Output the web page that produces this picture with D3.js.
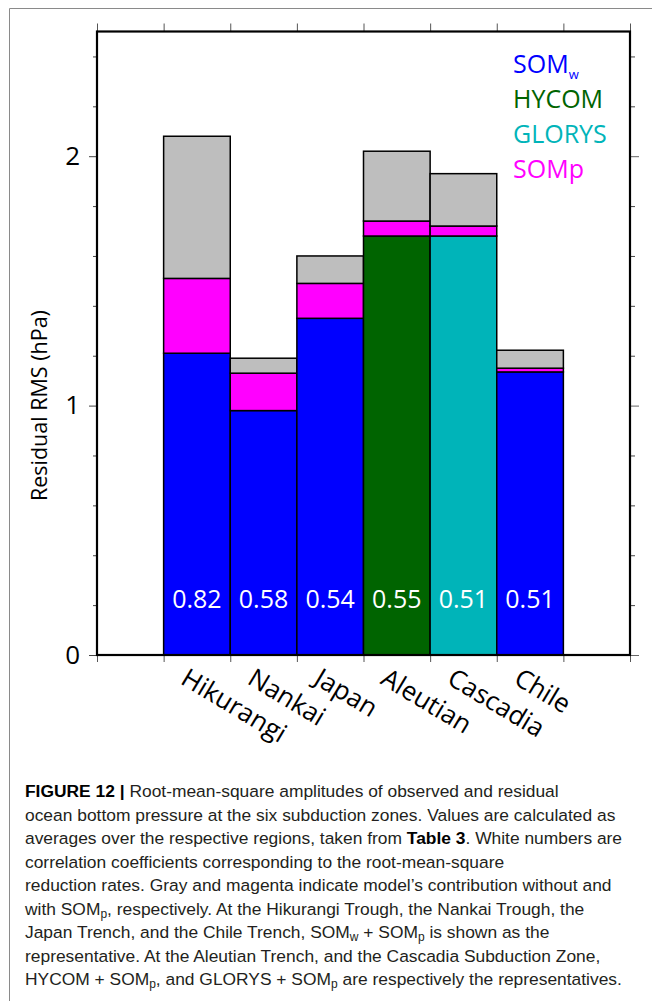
<!DOCTYPE html>
<html>
<head>
<meta charset="utf-8">
<script src="https://cdn.jsdelivr.net/npm/d3@7"></script>
<style>
  body { margin: 0; background: #fff; }
  svg { display: block; }
</style>
</head>
<body>
<script>
// data
var regions = ["Hikurangi", "Nankai", "Japan", "Aleutian", "Cascadia", "Chile"];
var baseModel = ["SOMw", "SOMw", "SOMw", "HYCOM", "GLORYS", "SOMw"];
var baseRms = [1.21, 0.98, 1.35, 1.68, 1.68, 1.135];   // residual with model alone
var sompRms = [1.51, 1.13, 1.49, 1.74, 1.72, 1.15];    // model + SOMp
var obsRms = [2.08, 1.19, 1.60, 2.02, 1.93, 1.222];    // observed
var corrLabels = ["0.82", "0.58", "0.54", "0.55", "0.51", "0.51"];
var legendNames = ["SOMw", "HYCOM", "GLORYS", "SOMp"];
var yTicksMajor = [0, 1, 2];

var colors = {SOMw: "#0000ff", HYCOM: "#006400", GLORYS: "#00b4b9", SOMp: "#ff00ff", obs: "#bebebe"};

var W = 652, H = 1001;
var margin = {top: 31.5, right: 22, bottom: 346, left: 97};
var width = W - margin.left - margin.right,
    height = H - margin.top - margin.bottom;

var svg = d3.select("body").append("svg")
  .attr("width", W)
  .attr("height", H);

// outer frame lines of the figure panel
svg.append("line").attr("x1", 9.5).attr("x2", 9.5).attr("y1", 8.5).attr("y2", H)
  .attr("stroke", "#8a8a8a").attr("stroke-width", 1);
svg.append("line").attr("x1", 9.5).attr("x2", W).attr("y1", 8.5).attr("y2", 8.5)
  .attr("stroke", "#8a8a8a").attr("stroke-width", 1);

var plot = svg.append("g")
  .attr("transform", "translate(" + margin.left + "," + margin.top + ")");

var xScale = d3.scaleLinear().domain([0, 8]).range([0, width]);
var yScale = d3.scaleLinear().domain([0, 2.5]).range([height, 0]);

// build stacked segments
var segs = [];
regions.forEach(function (r, i) {
  segs.push({i: i, y0: 0, y1: baseRms[i], c: colors[baseModel[i]]});
  segs.push({i: i, y0: baseRms[i], y1: sompRms[i], c: colors.SOMp});
  segs.push({i: i, y0: sompRms[i], y1: obsRms[i], c: colors.obs});
});

plot.append("g").selectAll("rect")
  .data(segs)
  .join("rect")
  .attr("x", function (d) { return xScale(d.i + 1); })
  .attr("width", function (d) { return xScale(d.i + 2) - xScale(d.i + 1); })
  .attr("y", function (d) { return yScale(d.y1); })
  .attr("height", function (d) { return yScale(d.y0) - yScale(d.y1); })
  .attr("fill", function (d) { return d.c; })
  .attr("stroke", "#000")
  .attr("stroke-width", 1.5);

// correlation numbers
plot.append("g").selectAll("text")
  .data(corrLabels)
  .join("text")
  .attr("x", function (d, i) { return xScale(i + 1.5); })
  .attr("y", yScale(0.19))
  .attr("text-anchor", "middle")
  .attr("fill", "#fff")
  .style("font-family", "Open Sans")
  .style("font-size", "25px")
  .text(function (d) { return d; });

// axes: ticks on all four sides, pointing out
var yMinor = d3.range(0, 2.51, 0.2).filter(function (v) { return Math.abs(v - Math.round(v)) > 0.01; });
var xTickVals = d3.range(0, 9);

plot.append("g")
  .call(d3.axisLeft(yScale).tickValues(yTicksMajor).tickSize(8).tickPadding(9).tickFormat(d3.format("d")))
  .call(function (g) { g.select(".domain").remove(); })
  .call(function (g) {
    g.selectAll("line").attr("stroke", "#444");
    g.selectAll("text").style("font-family", "Open Sans").style("font-size", "26px").attr("fill", "#000");
  });
plot.append("g")
  .call(d3.axisLeft(yScale).tickValues(yMinor).tickSize(4).tickFormat(""))
  .call(function (g) { g.select(".domain").remove(); g.selectAll("line").attr("stroke", "#444"); });

plot.append("g")
  .attr("transform", "translate(" + width + ",0)")
  .call(d3.axisRight(yScale).tickValues(yTicksMajor).tickSize(9).tickFormat(""))
  .call(function (g) { g.select(".domain").remove(); g.selectAll("line").attr("stroke", "#666"); });
plot.append("g")
  .attr("transform", "translate(" + width + ",0)")
  .call(d3.axisRight(yScale).tickValues(yMinor).tickSize(5).tickFormat(""))
  .call(function (g) { g.select(".domain").remove(); g.selectAll("line").attr("stroke", "#444"); });

plot.append("g")
  .call(d3.axisTop(xScale).tickValues(xTickVals).tickSize(8).tickFormat(""))
  .call(function (g) { g.select(".domain").remove(); g.selectAll("line").attr("stroke", "#555"); });
plot.append("g")
  .attr("transform", "translate(0," + height + ")")
  .call(d3.axisBottom(xScale).tickValues(xTickVals).tickSize(7).tickFormat(""))
  .call(function (g) { g.select(".domain").remove(); g.selectAll("line").attr("stroke", "#555"); });

// frame
plot.append("rect")
  .attr("width", width).attr("height", height)
  .attr("fill", "none").attr("stroke", "#000").attr("stroke-width", 2.2);

// region names, rotated
plot.append("g").selectAll("text")
  .data(regions)
  .join("text")
  .attr("transform", function (d, i) {
    return "translate(" + (xScale(i + 1.5) - 8) + "," + (height + 12) + ") rotate(31)";
  })
  .attr("dy", "0.72em")
  .style("font-family", "Open Sans")
  .style("font-size", "26px")
  .attr("fill", "#000")
  .text(function (d) { return d; });

// y axis title
svg.append("text")
  .attr("transform", "translate(47," + (margin.top + yScale(1)) + ") rotate(-90)")
  .attr("text-anchor", "middle")
  .style("font-family", "Open Sans")
  .style("font-size", "21.5px")
  .attr("fill", "#000")
  .text("Residual RMS (hPa)");

// legend
var leg = plot.append("g").attr("transform", "translate(416,0)");
legendNames.forEach(function (name, i) {
  var t = leg.append("text")
    .attr("x", 0)
    .attr("y", 41.5 + i * 35)
    .style("font-family", "Open Sans")
    .style("font-size", "25px")
    .attr("fill", colors[name]);
  if (name === "SOMw") {
    t.append("tspan").text("SOM");
    t.append("tspan").attr("dy", 6).style("font-size", "13px").text("w");
  } else {
    t.text(name);
  }
});

// caption
var capLines = [
  [["b", "FIGURE 12 | "], ["", "Root-mean-square amplitudes of observed and residual"]],
  [["", "ocean bottom pressure at the six subduction zones. Values are calculated as"]],
  [["", "averages over the respective regions, taken from "], ["b", "Table 3"], ["", ". White numbers are"]],
  [["", "correlation coefficients corresponding to the root-mean-square"]],
  [["", "reduction rates. Gray and magenta indicate model\u2019s contribution without and"]],
  [["", "with SOM"], ["s", "p"], ["", ", respectively. At the Hikurangi Trough, the Nankai Trough, the"]],
  [["", "Japan Trench, and the Chile Trench, SOM"], ["s", "w"], ["", " + SOM"], ["s", "p"], ["", " is shown as the"]],
  [["", "representative. At the Aleutian Trench, and the Cascadia Subduction Zone,"]],
  [["", "HYCOM + SOM"], ["s", "p"], ["", ", and GLORYS + SOM"], ["s", "p"], ["", " are respectively the representatives."]]
];

var cap = svg.append("g")
  .style("font-family", "Liberation Sans")
  .style("font-size", "17.4px")
  .attr("fill", "#231f20");

capLines.forEach(function (parts, li) {
  var t = cap.append("text").attr("x", 25).attr("y", 797 + li * 23.5);
  var inSub = false;
  parts.forEach(function (p) {
    var ts = t.append("tspan").text(p[1]);
    if (p[0] === "b") ts.attr("font-weight", "bold").attr("fill", "#000");
    if (p[0] === "s") { ts.attr("dy", 3).style("font-size", "12px"); inSub = true; }
    else if (inSub) { ts.attr("dy", -3); inSub = false; }
  });
});
</script>
</body>
</html>
